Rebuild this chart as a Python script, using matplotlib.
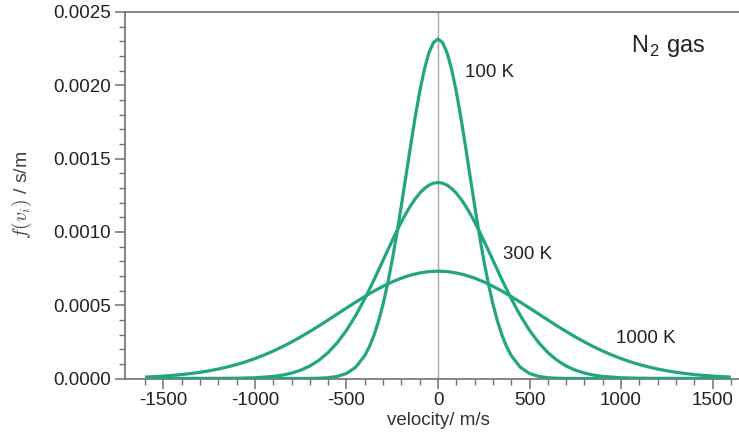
import matplotlib
matplotlib.use("Agg")
import matplotlib.pyplot as plt

# ---- data ----
v_100 = [-1600, -800, -700, -650, -600, -550, -500, -450, -400, -375, -350, -325, -300,
         -275, -250, -225, -200, -175, -150, -125, -100, -75, -50, -25, 0,
         25, 50, 75, 100, 125, 150, 175, 200, 225, 250, 275, 300, 325, 350, 375, 400,
         450, 500, 550, 600, 650, 700, 800, 1600]
f_100 = [0.0, 0.0, 0.0000006, 0.0000019, 0.0000054, 0.0000142, 0.0000343, 0.0000764,
         0.0001563, 0.0002167, 0.0002940, 0.0003907, 0.0005084, 0.0006477, 0.0008080,
         0.0009869, 0.0011804, 0.0013823, 0.0015852, 0.0017798, 0.0019567, 0.0021063,
         0.0022202, 0.0022915, 0.0023157,
         0.0022915, 0.0022202, 0.0021063, 0.0019567, 0.0017798, 0.0015852, 0.0013823,
         0.0011804, 0.0009869, 0.0008080, 0.0006477, 0.0005084, 0.0003907, 0.0002940,
         0.0002167, 0.0001563, 0.0000764, 0.0000343, 0.0000142, 0.0000054, 0.0000019,
         0.0000006, 0.0, 0.0]

v_300 = [-1600, -1200, -1100, -1000, -900, -850, -800, -750, -700, -650, -600, -550, -500,
         -450, -400, -350, -300, -275, -250, -225, -200, -175, -150, -125, -100, -75, -50,
         -25, 0,
         25, 50, 75, 100, 125, 150, 175, 200, 225, 250, 275, 300, 350, 400, 450, 500, 550,
         600, 650, 700, 750, 800, 850, 900, 1000, 1100, 1200, 1600]
f_300 = [0.0, 0.0000004, 0.0000015, 0.0000049, 0.0000141, 0.0000231, 0.0000368, 0.0000568,
         0.0000853, 0.0001247, 0.0001771, 0.0002446, 0.0003284, 0.0004288, 0.0005444,
         0.0006720, 0.0008066, 0.0008744, 0.0009413, 0.0010062, 0.0010680, 0.0011258,
         0.0011783, 0.0012247, 0.0012640, 0.0012954, 0.0013184, 0.0013323, 0.0013370,
         0.0013323, 0.0013184, 0.0012954, 0.0012640, 0.0012247, 0.0011783, 0.0011258,
         0.0010680, 0.0010062, 0.0009413, 0.0008744, 0.0008066, 0.0006720, 0.0005444,
         0.0004288, 0.0003284, 0.0002446, 0.0001771, 0.0001247, 0.0000853, 0.0000568,
         0.0000368, 0.0000231, 0.0000141, 0.0000049, 0.0000015, 0.0000004, 0.0]

v_1000 = [-1600, -1550, -1500, -1450, -1400, -1350, -1300, -1250, -1200, -1150, -1100,
          -1050, -1000, -950, -900, -850, -800, -750, -700, -650, -600, -550, -500, -450,
          -400, -350, -300, -250, -200, -150, -100, -50, 0,
          50, 100, 150, 200, 250, 300, 350, 400, 450, 500, 550, 600, 650, 700, 750, 800,
          850, 900, 950, 1000, 1050, 1100, 1150, 1200, 1250, 1300, 1350, 1400, 1450, 1500,
          1550, 1600]
f_1000 = [0.0000098, 0.0000128, 0.0000165, 0.0000212, 0.0000270, 0.0000340, 0.0000425,
          0.0000527, 0.0000647, 0.0000789, 0.0000954, 0.0001143, 0.0001358, 0.0001601,
          0.0001871, 0.0002168, 0.0002491, 0.0002839, 0.0003208, 0.0003594, 0.0003993,
          0.0004399, 0.0004806, 0.0005206, 0.0005593, 0.0005958, 0.0006293, 0.0006591,
          0.0006846, 0.0007051, 0.0007201, 0.0007292, 0.0007323,
          0.0007292, 0.0007201, 0.0007051, 0.0006846, 0.0006591, 0.0006293, 0.0005958,
          0.0005593, 0.0005206, 0.0004806, 0.0004399, 0.0003993, 0.0003594, 0.0003208,
          0.0002839, 0.0002491, 0.0002168, 0.0001871, 0.0001601, 0.0001358, 0.0001143,
          0.0000954, 0.0000789, 0.0000647, 0.0000527, 0.0000425, 0.0000340, 0.0000270,
          0.0000212, 0.0000165, 0.0000128, 0.0000098]

curve_labels = ["100 K", "300 K", "1000 K"]
label_pos = [(150, 0.00209), (355, 0.000845), (975, 0.000275)]
x_ticks = [-1500, -1000, -500, 0, 500, 1000, 1500]
y_ticks = [0.0, 0.0005, 0.0010, 0.0015, 0.0020, 0.0025]

# ---- style ----
plt.rcParams['font.family'] = ['Liberation Sans', 'DejaVu Sans']
plt.rcParams['mathtext.fontset'] = 'cm'
plt.rcParams['axes.unicode_minus'] = False
line_color = '#23a582'
spine_color = '#707070'
text_color = '#222222'

fig = plt.figure(figsize=(7.39, 4.33), dpi=100)
ax = fig.add_axes([125 / 739, 54.5 / 433, 626 / 739, 366.5 / 433])

ax.axvline(0, color='#a8a8a8', lw=1.0, zorder=1)
for v, f in [(v_100, f_100), (v_300, f_300), (v_1000, f_1000)]:
    ax.plot(v, f, color=line_color, lw=2.3, solid_capstyle='butt',
            solid_joinstyle='round', zorder=3)

for lab, (x, y) in zip(curve_labels, label_pos):
    ax.text(x, y, lab, fontsize=13.5, color=text_color, va='center', ha='left')

ax.text(1055, 0.00227, r'N$_\mathregular{2}$ gas', fontsize=17, color=text_color,
        va='center', ha='left')

ax.set_xlim(-1710, 1710)
ax.set_ylim(0, 0.0025)
ax.set_xticks(x_ticks)
ax.set_xticklabels([str(t) for t in x_ticks])
ax.set_yticks(y_ticks)
ax.set_yticklabels([f"{t:.4f}" for t in y_ticks])
ax.set_xticks(range(-1600, 1601, 100), minor=True)
ax.set_yticks([i * 0.0001 for i in range(0, 26)], minor=True)

for s in ['left', 'bottom', 'top']:
    ax.spines[s].set_color(spine_color)
    ax.spines[s].set_linewidth(1.2)
ax.spines['right'].set_visible(False)

ax.tick_params(which='major', direction='out', length=7, width=1.1, color=spine_color,
               labelsize=13.5, labelcolor=text_color, pad=3)
ax.tick_params(which='minor', direction='out', length=4, width=1.0, color=spine_color)
ax.tick_params(top=False, right=False, which='both')

ax.set_xlabel('velocity/ m/s', fontsize=13.5, color='#333333', labelpad=2)
ax.set_ylabel(r'$f(v_i)$ / s/m', fontsize=14, color='#444444', labelpad=14)

fig.savefig('out.png', dpi=100)
